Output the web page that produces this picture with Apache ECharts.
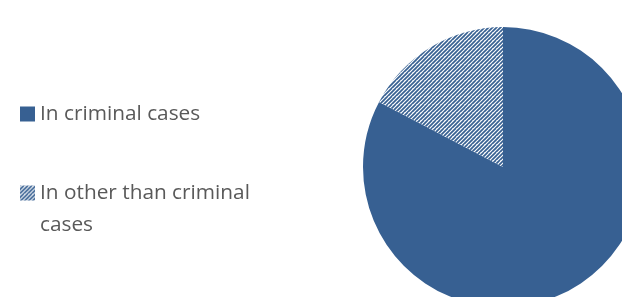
<!DOCTYPE html>
<html>
<head>
<meta charset="utf-8">
<script src="https://cdn.jsdelivr.net/npm/echarts@6/dist/echarts.min.js"></script>
<style>
  html, body { margin: 0; padding: 0; background: #fff; }
  #main { width: 622px; height: 297px; }
</style>
</head>
<body>
<div id="main"></div>
<script>
var categories = ["In criminal cases", "In other than criminal cases"];
var values = [82.7, 17.3];

var BLUE = "#376092";

// diagonal stripes "/" for the second slice
var makeStripes = function () {
  var c = document.createElement("canvas");
  c.width = 8;
  c.height = 8;
  var ctx = c.getContext("2d");
  ctx.fillStyle = "#fff";
  ctx.fillRect(0, 0, 8, 8);
  ctx.strokeStyle = BLUE;
  ctx.lineWidth = 1.7;
  for (var k = -8; k <= 16; k += 4) {
    ctx.beginPath();
    ctx.moveTo(k - 8, 16);
    ctx.lineTo(k + 8, 0);
    ctx.stroke();
  }
  return c;
};

var colors = [BLUE, { image: makeStripes(), repeat: "repeat" }];

var FONT = "Open Sans";
var SIZE = 20.8;

var myChart = echarts.init(document.getElementById("main"));

myChart.setOption({
  backgroundColor: "#fff",
  animation: false,
  legend: [
    {
      data: [categories[0]],
      left: 20,
      top: 103.5,
      icon: "rect",
      itemWidth: 15,
      itemHeight: 15,
      padding: 0,
      selectedMode: false,
      textStyle: { fontFamily: FONT, fontSize: SIZE, color: "#595959", lineHeight: 20 },
    },
    {
      data: [categories[1]],
      left: 20,
      top: 150.5,
      icon: "rect",
      itemWidth: 15,
      itemHeight: 15,
      padding: 0,
      selectedMode: false,
      // empty first line keeps the icon level with the first text line
      formatter: function (name) {
        return "{e| }\n{t|In other than criminal}\n{t|cases}";
      },
      textStyle: {
        fontFamily: FONT,
        fontSize: SIZE,
        color: "#595959",
        rich: {
          e: { lineHeight: 32, fontSize: SIZE, fontFamily: FONT },
          t: { lineHeight: 32, fontSize: SIZE, fontFamily: FONT, color: "#595959" },
        },
      },
    },
  ],
  series: [
    {
      type: "pie",
      center: [503, 167],
      radius: 140,
      startAngle: 90,
      clockwise: true,
      label: { show: false },
      labelLine: { show: false },
      emphasis: { disabled: true },
      itemStyle: { borderWidth: 0 },
      data: categories.map(function (name, i) {
        return { name: name, value: values[i], itemStyle: { color: colors[i] } };
      }),
    },
  ],
});
</script>
</body>
</html>
